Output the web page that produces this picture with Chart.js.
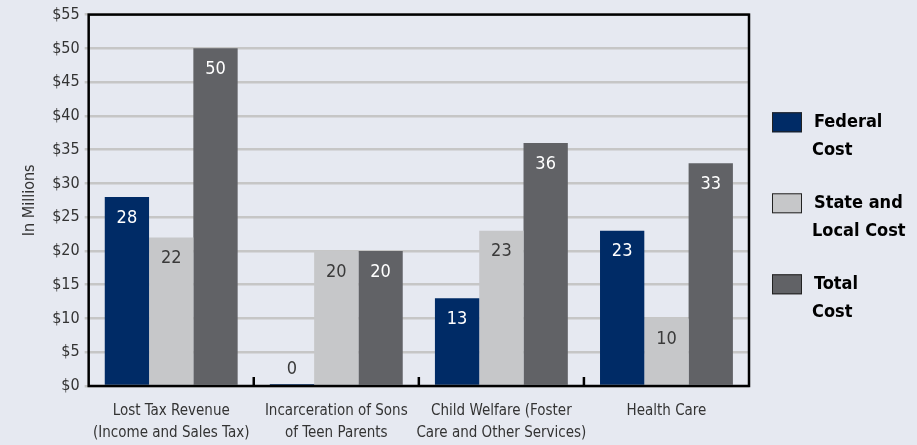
<!DOCTYPE html>
<html>
<head>
<meta charset="utf-8">
<script src="https://cdn.jsdelivr.net/npm/chart.js@4.4.0/dist/chart.umd.min.js"></script>
<style>
  html, body { margin: 0; padding: 0; background: #e6e9f1; }
  #wrap { width: 917px; height: 445px; }
</style>
</head>
<body>
<div id="wrap"><canvas id="myChart" width="917" height="445"></canvas></div>
<script>
const categories = [
    ['Lost Tax Revenue', '(Income and Sales Tax)'],
    ['Incarceration of Sons', 'of Teen Parents'],
    ['Child Welfare (Foster', 'Care and Other Services)'],
    ['Health Care'],
];
const federalCost = [28, 0, 13, 23];
const stateLocalCost = [22, 20, 23, 10];
const totalCost = [50, 20, 36, 33];
const seriesNames = [['Federal', 'Cost'], ['State and', 'Local Cost'], ['Total', 'Cost']];
const yTickValues = [0, 5, 10, 15, 20, 25, 30, 35, 40, 45, 50, 55];

const FONT = "'DejaVu Sans Condensed', 'Liberation Sans Narrow', sans-serif";
const colors = ['#002b66', '#c6c7c9', '#616266'];
const labelColors = ['#ffffff', '#3a3a3a', '#ffffff'];

// bar value labels
const valueLabels = {
    id: 'valueLabels',
    afterDatasetsDraw(chart) {
        const ctx = chart.ctx;
        ctx.save();
        ctx.font = '18px ' + FONT;
        ctx.textAlign = 'center';
        ctx.textBaseline = 'middle';
        chart.data.datasets.forEach((ds, i) => {
            chart.getDatasetMeta(i).data.forEach((bar, j) => {
                const v = ds.data[j];
                if (v < 3) {
                    ctx.fillStyle = '#3a3a3a';
                    ctx.fillText(String(v), bar.x, chart.scales.y.getPixelForValue(0) - 17);
                } else {
                    ctx.fillStyle = labelColors[i];
                    ctx.fillText(String(v), bar.x, bar.y + 21);
                }
            });
        });
        ctx.restore();
    }
};

// frame, inner x ticks and the legend on the right
const frameAndLegend = {
    id: 'frameAndLegend',
    afterDraw(chart) {
        const ctx = chart.ctx;
        const a = chart.chartArea;
        const xs = chart.scales.x;
        ctx.save();
        ctx.strokeStyle = '#000';
        ctx.lineWidth = 2.5;
        ctx.strokeRect(a.left, a.top, a.right - a.left, a.bottom - a.top);
        // short ticks between categories
        const step = xs.getPixelForValue(1) - xs.getPixelForValue(0);
        for (let i = 0; i < categories.length - 1; i++) {
            const x = xs.getPixelForValue(i) + step / 2;
            ctx.beginPath();
            ctx.moveTo(x, a.bottom);
            ctx.lineTo(x, a.bottom - 9);
            ctx.stroke();
        }
        // legend
        const cy = (a.top + a.bottom) / 2 + 3;
        const bx = a.right + 23;
        ctx.font = 'bold 18px ' + FONT;
        ctx.textBaseline = 'middle';
        ctx.textAlign = 'left';
        seriesNames.forEach((name, i) => {
            const y = cy + (i - 1) * 81;
            ctx.fillStyle = colors[i];
            ctx.fillRect(bx, y - 10, 30, 20);
            ctx.lineWidth = 1;
            ctx.strokeStyle = '#222';
            ctx.strokeRect(bx + 0.5, y - 9.5, 29, 19);
            ctx.fillStyle = '#000';
            ctx.fillText(name[0], bx + 42, y);
            ctx.fillText(name[1], bx + 40, y + 28);
        });
        ctx.restore();
    }
};

const data = {
    labels: categories,
    datasets: [
        { label: 'Federal Cost', data: federalCost, backgroundColor: colors[0], minBarLength: 2 },
        { label: 'State and Local Cost', data: stateLocalCost, backgroundColor: colors[1] },
        { label: 'Total Cost', data: totalCost, backgroundColor: colors[2] },
    ],
};

const config = {
    type: 'bar',
    data: data,
    options: {
        responsive: false,
        animation: false,
        datasets: { bar: { categoryPercentage: 0.805, barPercentage: 1.0 } },
        layout: { padding: { top: 12, right: 168, left: 20, bottom: 0 } },
        plugins: {
            legend: { display: false },
            tooltip: { enabled: false },
        },
        scales: {
            x: {
                grid: { display: false },
                border: { display: false },
                afterFit(scale) {
                    scale.height = 59;
                },
                ticks: {
                    color: '#333',
                    font: { family: FONT, size: 15, lineHeight: 1.45 },
                    maxRotation: 0,
                    autoSkip: false,
                    padding: 6,
                },
            },
            y: {
                min: 0,
                max: 55,
                afterBuildTicks(scale) {
                    scale.ticks = yTickValues.map(v => ({ value: v }));
                },
                grid: { color: '#c6c6c6', lineWidth: 2.5, tickLength: 4, tickColor: '#c6c6c6' },
                border: { display: false },
                ticks: {
                    color: '#333',
                    font: { family: FONT, size: 16 },
                    padding: 5,
                    callback: v => '$' + v,
                },
                title: {
                    display: true,
                    text: 'In Millions',
                    color: '#333',
                    font: { family: FONT, size: 16 },
                    padding: { top: 0, bottom: 8 },
                },
            },
        },
    },
    plugins: [valueLabels, frameAndLegend],
};

const ctx = document.getElementById('myChart').getContext('2d');
const myChart = new Chart(ctx, config);
</script>
</body>
</html>
